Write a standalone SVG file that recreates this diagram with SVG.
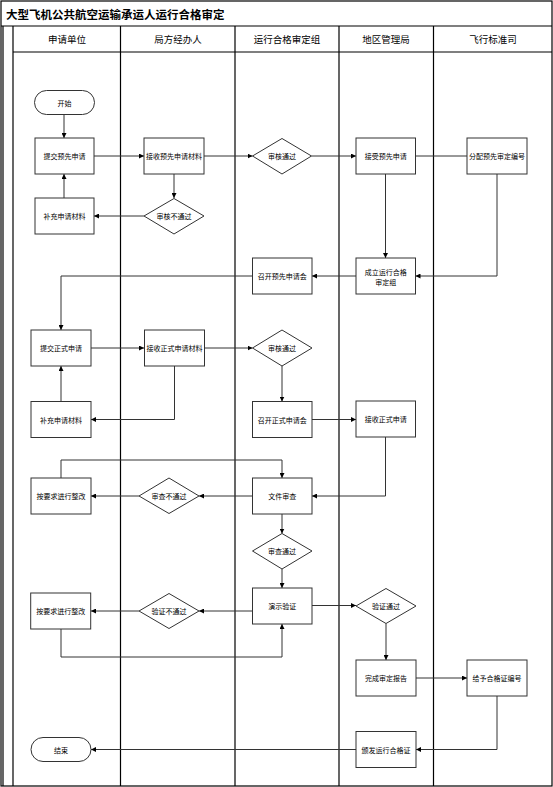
<svg xmlns="http://www.w3.org/2000/svg" width="553" height="787" viewBox="0 0 553 787">
<style>
.frame{fill:none;stroke:#000;stroke-width:1.2}
.lane{stroke:#000;stroke-width:1.2}
.box{fill:#fff;stroke:#333;stroke-width:1}
.t{font-family:"Noto Sans CJK SC","Noto Sans",sans-serif;font-size:7px;fill:#000;text-anchor:middle;dominant-baseline:central}
.h{font-family:"Noto Sans CJK SC","Noto Sans",sans-serif;font-size:9.5px;fill:#000;text-anchor:middle;dominant-baseline:central}
.title{font-family:"Noto Sans CJK SC","Noto Sans",sans-serif;font-size:11.5px;font-weight:bold;fill:#000;dominant-baseline:central}
.c{fill:none;stroke:#333;stroke-width:1}
.a{marker-end:url(#arr)}
</style>
<defs>
<marker id="arr" viewBox="0 0 10 10" refX="10" refY="5" markerWidth="5" markerHeight="5" markerUnits="userSpaceOnUse" orient="auto">
<path d="M0,0 L10,5 L0,10 z" fill="#000"/>
</marker>
</defs>
<rect width="553" height="787" fill="#fff"/>
<g id="frame">
<rect class="frame" x="1" y="1" width="551" height="785"/>
<line class="lane" x1="1" y1="26" x2="552" y2="26"/>
<line class="lane" x1="3" y1="26" x2="3" y2="786"/>
<line class="lane" x1="13" y1="26" x2="13" y2="786"/>
<line class="lane" x1="13" y1="52" x2="552" y2="52"/>
<line class="lane" x1="120.5" y1="26" x2="120.5" y2="786"/>
<line class="lane" x1="235" y1="26" x2="235" y2="786"/>
<line class="lane" x1="339" y1="26" x2="339" y2="786"/>
<line class="lane" x1="433.5" y1="26" x2="433.5" y2="786"/>
<text class="title" x="6" y="14">大型飞机公共航空运输承运人运行合格审定</text>
<text class="h" x="67" y="39">申请单位</text>
<text class="h" x="178" y="39">局方经办人</text>
<text class="h" x="287" y="39">运行合格审定组</text>
<text class="h" x="386" y="39">地区管理局</text>
<text class="h" x="493" y="39">飞行标准司</text>
</g>
<g id="connectors">
<path class="c a" d="M64,114.5 V138"/>
<path class="c a" d="M94,156 H144"/>
<path class="c a" d="M204,156 H252.5"/>
<path class="c a" d="M311.5,156 H356"/>
<path class="c" d="M415.5,156 H467"/>
<path class="c a" d="M174,174 V198"/>
<path class="c a" d="M144,216 H94"/>
<path class="c a" d="M64,198 V174"/>
<path class="c a" d="M385.5,174 V258"/>
<path class="c a" d="M497,174 V276 H415.5"/>
<path class="c a" d="M356,276 H312"/>
<path class="c a" d="M252.5,276 H61 V330"/>
<path class="c a" d="M91,348 H144"/>
<path class="c a" d="M204,348 H252.5"/>
<path class="c a" d="M174.5,366 V419.5 H91"/>
<path class="c a" d="M61,401.5 V366"/>
<path class="c a" d="M282,366 V401.5"/>
<path class="c a" d="M312,419.5 H356"/>
<path class="c a" d="M385.5,437 V496 H312"/>
<path class="c a" d="M252.5,496 H199"/>
<path class="c a" d="M139,496 H91"/>
<path class="c a" d="M61,478 V460 H282 V478"/>
<path class="c a" d="M282,514 V533.5"/>
<path class="c a" d="M282,569 V588"/>
<path class="c a" d="M312,605.5 H356"/>
<path class="c a" d="M252.5,611 H199"/>
<path class="c a" d="M139,611 H91"/>
<path class="c a" d="M61,629 V657 H282 V624"/>
<path class="c a" d="M386,623.5 V660"/>
<path class="c a" d="M416,678 H467"/>
<path class="c a" d="M497,696 V749.5 H416"/>
<path class="c a" d="M356,749.5 H91"/>
</g>
<g id="n-start"><rect class="box" x="34.5" y="90.5" width="60" height="24" rx="12"/><text class="t" x="64.5" y="102.5">开始</text></g>
<g id="n-submit-pre"><rect class="box" x="35" y="138" width="59" height="36"/><text class="t" x="64.5" y="156">提交预先申请</text></g>
<g id="n-recv-pre-mat"><rect class="box" x="144" y="138" width="60" height="36"/><text class="t" x="174" y="156">接收预先申请材料</text></g>
<g id="n-review-ok-1"><polygon class="box" points="282,138.5 311.5,156 282,174 252.5,156"/><text class="t" x="282" y="156">审核通过</text></g>
<g id="n-accept-pre"><rect class="box" x="356" y="138" width="59.5" height="36"/><text class="t" x="385.7" y="156">接受预先申请</text></g>
<g id="n-assign-no"><rect class="box" x="467" y="138" width="60" height="36"/><text class="t" x="497" y="156">分配预先审定编号</text></g>
<g id="n-review-fail-1"><polygon class="box" points="174,198.5 204,216 174,234 144,216"/><text class="t" x="174" y="216">审核不通过</text></g>
<g id="n-supp-1"><rect class="box" x="35" y="198" width="59" height="36"/><text class="t" x="64.5" y="216">补充申请材料</text></g>
<g id="n-found-group"><rect class="box" x="356" y="258" width="59.5" height="36"/><text class="t" x="385.7" y="271.5">成立运行合格</text><text class="t" x="385.7" y="281.5">审定组</text></g>
<g id="n-meet-pre"><rect class="box" x="252.5" y="258" width="59.5" height="36"/><text class="t" x="282.2" y="276">召开预先申请会</text></g>
<g id="n-submit-formal"><rect class="box" x="31" y="330" width="60" height="36"/><text class="t" x="61" y="348">提交正式申请</text></g>
<g id="n-recv-formal-mat"><rect class="box" x="144.5" y="330" width="60" height="36"/><text class="t" x="174.5" y="348">接收正式申请材料</text></g>
<g id="n-review-ok-2"><polygon class="box" points="282,330 312,348 282,366 252.5,348"/><text class="t" x="282" y="348">审核通过</text></g>
<g id="n-supp-2"><rect class="box" x="31" y="401.5" width="60" height="36"/><text class="t" x="61" y="419.5">补充申请材料</text></g>
<g id="n-meet-formal"><rect class="box" x="252.5" y="401.5" width="59.5" height="36"/><text class="t" x="282.2" y="419.5">召开正式申请会</text></g>
<g id="n-recv-formal"><rect class="box" x="356" y="401" width="59.5" height="36"/><text class="t" x="385.7" y="419">接收正式申请</text></g>
<g id="n-fix-1"><rect class="box" x="31" y="478" width="60" height="36"/><text class="t" x="61" y="496">按要求进行整改</text></g>
<g id="n-doc-fail"><polygon class="box" points="169,478 199,496 169,513.5 139,496"/><text class="t" x="169" y="496">审查不通过</text></g>
<g id="n-doc-review"><rect class="box" x="252.5" y="478" width="59.5" height="36"/><text class="t" x="282.2" y="496">文件审查</text></g>
<g id="n-doc-ok"><polygon class="box" points="282,533.5 312,551 282,569 252.5,551"/><text class="t" x="282" y="551">审查通过</text></g>
<g id="n-demo"><rect class="box" x="252.5" y="588" width="59.5" height="36"/><text class="t" x="282.2" y="606">演示验证</text></g>
<g id="n-fix-2"><rect class="box" x="30.7" y="593" width="60" height="36"/><text class="t" x="60.7" y="611">按要求进行整改</text></g>
<g id="n-demo-fail"><polygon class="box" points="169,593.5 199,611 169,628.5 139,611"/><text class="t" x="169" y="611">验证不通过</text></g>
<g id="n-demo-ok"><polygon class="box" points="386,588.5 416,606 386,623.5 356,606"/><text class="t" x="386" y="606">验证通过</text></g>
<g id="n-report"><rect class="box" x="356" y="660" width="60" height="36"/><text class="t" x="386" y="678">完成审定报告</text></g>
<g id="n-cert-no"><rect class="box" x="467" y="660" width="60" height="36"/><text class="t" x="497" y="678">给予合格证编号</text></g>
<g id="n-issue"><rect class="box" x="356" y="731.5" width="60" height="36"/><text class="t" x="386" y="749.5">颁发运行合格证</text></g>
<g id="n-end"><rect class="box" x="31" y="737.5" width="60" height="24" rx="12"/><text class="t" x="61" y="749.5">结束</text></g>
</svg>
